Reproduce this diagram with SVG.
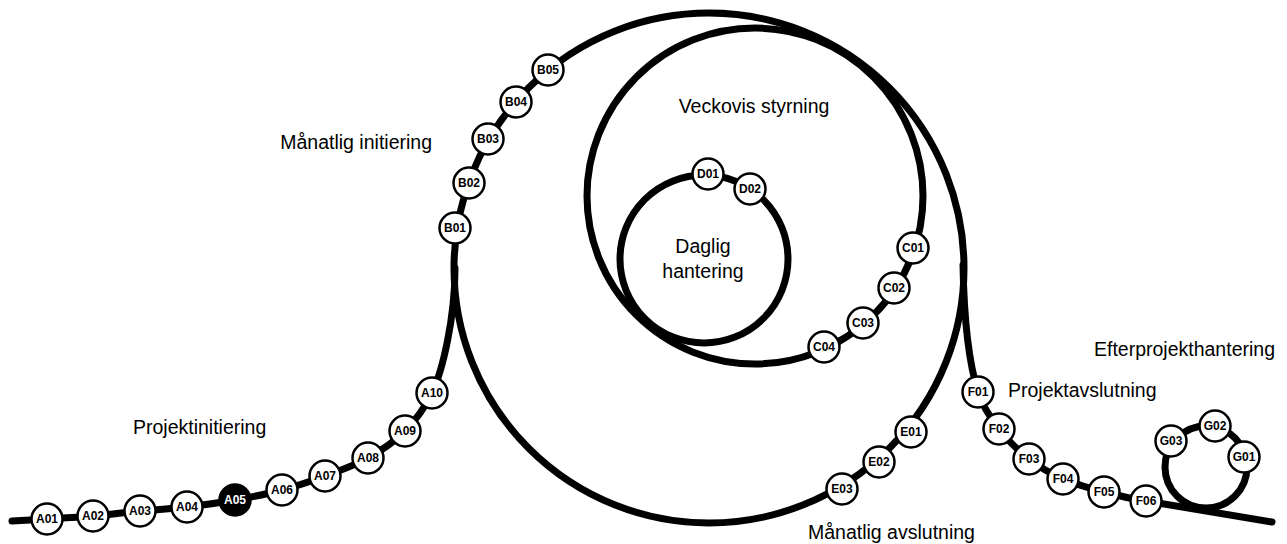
<svg xmlns="http://www.w3.org/2000/svg" width="1287" height="544" viewBox="0 0 1287 544">
<style>
.trk{fill:none;stroke:#000;stroke-width:7;stroke-linecap:round}
.nd circle{fill:#fff;stroke:#000;stroke-width:2.5}
.nd text{font-family:"Liberation Sans",Arial,sans-serif;font-weight:bold;font-size:12px;text-anchor:middle;fill:#000}
.nd.dark circle{fill:#000}
.nd.dark text{fill:#fff}
.lbl{font-family:"Liberation Sans",Arial,sans-serif;font-size:19.5px;fill:#000}
</style>
<rect width="1287" height="544" fill="#fff"/>
<g id="connectors">
<path class="trk" d="M12,521 C17.8,520.7 33.5,519.8 47,519 C60.5,518.2 77.5,517.3 93,516 C108.5,514.7 124.3,512.5 140,511 C155.7,509.5 171.2,508.8 187,507 C202.8,505.2 219.2,502.8 235,500 C250.8,497.2 267,494 282,490 C297,486 310.7,481.3 325,476 C339.3,470.7 354.7,465.5 368,458 C381.3,450.5 394.3,441.8 405,431 C415.7,420.2 423.7,410 432,393 C442,372 455,320 455,268"/>
<circle class="trk" cx="709" cy="268" r="255"/>
<circle class="trk" cx="755" cy="196" r="168"/>
<circle class="trk" cx="704" cy="259" r="84"/>
<circle class="trk" cx="1206" cy="467" r="41"/>
<path class="trk" d="M963,265 C964,320 968,360 978,392 C982,405 990.5,417.8 999,429 C1007.5,440.2 1018.3,450.7 1029,459 C1039.7,467.3 1050.5,473.5 1063,479 C1075.5,484.5 1090.2,488.3 1104,492 C1117.8,495.7 1130,498.5 1146,501 L1272,522"/>
</g>
<g id="A01" class="nd"><circle cx="47" cy="519" r="15.5"/><text x="47" y="523.3">A01</text></g>
<g id="A02" class="nd"><circle cx="93" cy="516" r="15.5"/><text x="93" y="520.3">A02</text></g>
<g id="A03" class="nd"><circle cx="140" cy="511" r="15.5"/><text x="140" y="515.3">A03</text></g>
<g id="A04" class="nd"><circle cx="187" cy="507" r="15.5"/><text x="187" y="511.3">A04</text></g>
<g id="A05" class="nd dark"><circle cx="235" cy="500" r="15.5"/><text x="235" y="504.3">A05</text></g>
<g id="A06" class="nd"><circle cx="282" cy="490" r="15.5"/><text x="282" y="494.3">A06</text></g>
<g id="A07" class="nd"><circle cx="325" cy="476" r="15.5"/><text x="325" y="480.3">A07</text></g>
<g id="A08" class="nd"><circle cx="368" cy="458" r="15.5"/><text x="368" y="462.3">A08</text></g>
<g id="A09" class="nd"><circle cx="405" cy="431" r="15.5"/><text x="405" y="435.3">A09</text></g>
<g id="A10" class="nd"><circle cx="432" cy="393" r="15.5"/><text x="432" y="397.3">A10</text></g>
<g id="B01" class="nd"><circle cx="455" cy="228" r="15.5"/><text x="455" y="232.3">B01</text></g>
<g id="B02" class="nd"><circle cx="469" cy="183" r="15.5"/><text x="469" y="187.3">B02</text></g>
<g id="B03" class="nd"><circle cx="488" cy="139" r="15.5"/><text x="488" y="143.3">B03</text></g>
<g id="B04" class="nd"><circle cx="516" cy="102" r="15.5"/><text x="516" y="106.3">B04</text></g>
<g id="B05" class="nd"><circle cx="548" cy="70" r="15.5"/><text x="548" y="74.3">B05</text></g>
<g id="C01" class="nd"><circle cx="913" cy="248" r="15.5"/><text x="913" y="252.3">C01</text></g>
<g id="C02" class="nd"><circle cx="894" cy="288" r="15.5"/><text x="894" y="292.3">C02</text></g>
<g id="C03" class="nd"><circle cx="863" cy="323" r="15.5"/><text x="863" y="327.3">C03</text></g>
<g id="C04" class="nd"><circle cx="824" cy="347" r="15.5"/><text x="824" y="351.3">C04</text></g>
<g id="D01" class="nd"><circle cx="708" cy="174" r="15.5"/><text x="708" y="178.3">D01</text></g>
<g id="D02" class="nd"><circle cx="750" cy="189" r="15.5"/><text x="750" y="193.3">D02</text></g>
<g id="E01" class="nd"><circle cx="911" cy="432" r="15.5"/><text x="911" y="436.3">E01</text></g>
<g id="E02" class="nd"><circle cx="879" cy="462" r="15.5"/><text x="879" y="466.3">E02</text></g>
<g id="E03" class="nd"><circle cx="842" cy="489" r="15.5"/><text x="842" y="493.3">E03</text></g>
<g id="F01" class="nd"><circle cx="978" cy="392" r="15.5"/><text x="978" y="396.3">F01</text></g>
<g id="F02" class="nd"><circle cx="999" cy="429" r="15.5"/><text x="999" y="433.3">F02</text></g>
<g id="F03" class="nd"><circle cx="1029" cy="459" r="15.5"/><text x="1029" y="463.3">F03</text></g>
<g id="F04" class="nd"><circle cx="1063" cy="479" r="15.5"/><text x="1063" y="483.3">F04</text></g>
<g id="F05" class="nd"><circle cx="1104" cy="492" r="15.5"/><text x="1104" y="496.3">F05</text></g>
<g id="F06" class="nd"><circle cx="1146" cy="501" r="15.5"/><text x="1146" y="505.3">F06</text></g>
<g id="G01" class="nd"><circle cx="1244" cy="457" r="15.5"/><text x="1244" y="461.3">G01</text></g>
<g id="G02" class="nd"><circle cx="1215" cy="426" r="15.5"/><text x="1215" y="430.3">G02</text></g>
<g id="G03" class="nd"><circle cx="1171" cy="441" r="15.5"/><text x="1171" y="445.3">G03</text></g>
<g id="labels">
<text class="lbl" x="432" y="149" text-anchor="end">Månatlig initiering</text>
<text class="lbl" x="754" y="113" text-anchor="middle">Veckovis styrning</text>
<text class="lbl" x="703" y="253" text-anchor="middle">Daglig</text>
<text class="lbl" x="703" y="278" text-anchor="middle">hantering</text>
<text class="lbl" x="133" y="434">Projektinitiering</text>
<text class="lbl" x="1008" y="397">Projektavslutning</text>
<text class="lbl" x="1275" y="356" text-anchor="end">Efterprojekthantering</text>
<text class="lbl" x="808" y="539">Månatlig avslutning</text>
</g>
</svg>
